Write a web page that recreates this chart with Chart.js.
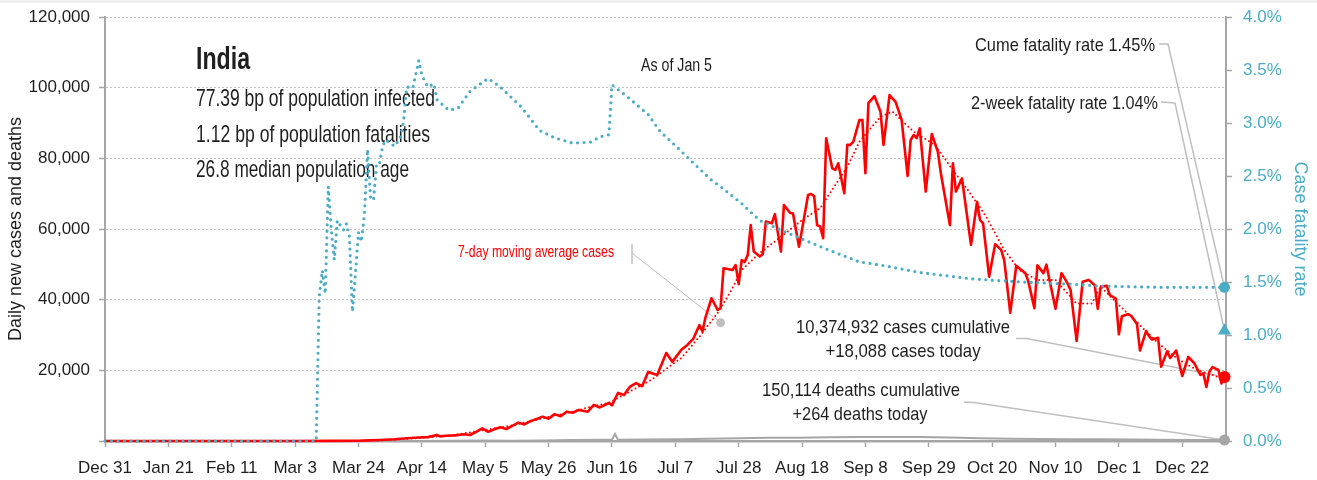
<!DOCTYPE html>
<html>
<head>
<meta charset="utf-8">
<title>India daily cases and deaths</title>
<script src="https://cdn.jsdelivr.net/npm/chart.js@4.4.1/dist/chart.umd.min.js"></script>
<style>
  html, body { margin: 0; padding: 0; background: #fff; }
  canvas { display: block; }
</style>
</head>
<body>
<canvas id="chart" width="1317" height="480"></canvas>
<script>
// ----------------------
// Data (x = days since Dec 31, 2019)
// ----------------------
const xTickDays = [0, 21, 42, 63, 84, 105, 126, 147, 168, 189, 210, 231, 252, 273, 294, 315, 336, 357];
const xTickLabels = ['Dec 31', 'Jan 21', 'Feb 11', 'Mar 3', 'Mar 24', 'Apr 14', 'May 5', 'May 26', 'Jun 16',
  'Jul 7', 'Jul 28', 'Aug 18', 'Sep 8', 'Sep 29', 'Oct 20', 'Nov 10', 'Dec 1', 'Dec 22'];

// daily new cases [day, cases]
const dailyCases = [
  [0, 0], [62, 0], [75, 30], [85, 120], [91, 300], [96, 500], [100, 800], [104, 1000], [107, 1100],
  [110, 1700], [111, 1300], [113, 1500], [116, 1600], [119, 1900], [121, 1700], [123, 2600], [125, 3600],
  [127, 2600], [129, 3300], [131, 3900], [133, 3400], [135, 4300], [137, 5200], [139, 4700], [141, 5600],
  [143, 6200], [145, 6900], [147, 6300], [149, 7600], [151, 7000], [153, 8300], [155, 8000], [157, 8800],
  [160, 8300], [162, 10200], [164, 9500], [167, 10750], [168, 10100], [170, 13600], [172, 13000],
  [174, 15400], [176, 16400], [178, 15500], [180, 19500], [183, 18700], [186, 24900], [188, 22400],
  [191, 25800], [193, 27200], [195, 29000], [197, 32800], [198, 31000], [199, 35000], [201, 40400],
  [203, 37100], [204, 37600], [205, 48900], [208, 48400], [209, 49800], [210, 44400], [211, 51200],
  [212, 50700], [213, 52600], [214, 61100], [215, 53600], [217, 52200], [218, 52900], [219, 62100],
  [221, 61600], [222, 64200], [224, 53600], [225, 66800], [227, 64600], [228, 64400], [230, 55000],
  [233, 69600], [234, 69900], [235, 69300], [236, 61100], [237, 60700], [238, 57400], [239, 85700],
  [241, 77200], [242, 76700], [243, 78600], [245, 70100], [246, 83800], [247, 83800], [248, 84700],
  [250, 90800], [251, 90800], [252, 75800], [253, 95600], [255, 97600], [257, 93200], [258, 83800],
  [260, 97900], [262, 96000], [264, 90900], [266, 75000], [267, 85200], [268, 86600], [269, 85700],
  [270, 88500], [272, 70600], [274, 86900], [276, 81900], [277, 75800], [280, 61100], [281, 78600],
  [282, 70600], [284, 74300], [287, 55500], [289, 67700], [290, 62500], [291, 61600], [293, 46500],
  [295, 55700], [297, 54100], [298, 51200], [300, 36300], [302, 49600], [305, 47500], [306, 45100],
  [308, 37600], [309, 49700], [311, 47500], [312, 49900], [313, 45600], [315, 37400], [317, 47500],
  [319, 44600], [320, 42700], [322, 28300], [324, 45100], [326, 45600], [328, 44100], [329, 37400],
  [330, 43700], [332, 43900], [333, 41300], [335, 40300], [336, 30200], [337, 35300], [339, 35900],
  [340, 35500], [342, 33100], [343, 25600], [345, 31100], [346, 29700], [347, 28700], [349, 29200],
  [350, 21000], [352, 25400], [353, 23500], [355, 25600], [357, 18400], [359, 23800], [361, 22000],
  [363, 18700], [364, 19100], [365, 15300], [366, 19600], [367, 20900], [369, 20100], [370, 16300],
  [371, 18088]
];

// 7-day moving average of cases [day, cases]
const casesAvg7 = [
  [0, 0], [80, 0], [91, 150], [104, 850], [115, 1600], [125, 3000], [135, 4400], [145, 6400], [155, 8300],
  [161, 9700], [167, 10800], [174, 14000], [181, 17300], [191, 23500], [197, 29500], [203, 36200],
  [207, 41800], [211, 48400], [217, 53200], [224, 57800], [231, 62500], [237, 65900], [246, 77600],
  [250, 84700], [257, 91800], [261, 93200], [268, 87500], [275, 83800], [281, 76700], [286, 71000],
  [292, 63500], [298, 54100], [303, 48400], [309, 45600], [315, 45600], [322, 38900], [327, 38900],
  [330, 43700], [335, 39300], [342, 33600], [349, 27700], [356, 22900], [362, 20100], [369, 18100],
  [371, 17500]
];

// daily new deaths [day, deaths]
const dailyDeaths = [
  [0, 0], [70, 0], [85, 5], [95, 15], [105, 35], [115, 50], [125, 120], [135, 100], [145, 150],
  [155, 270], [165, 330], [168, 380], [169, 2000], [170, 340], [180, 420], [190, 500], [200, 650],
  [210, 780], [220, 900], [230, 950], [240, 1050], [250, 1130], [260, 1150], [270, 1100], [280, 1000],
  [290, 800], [300, 650], [310, 560], [320, 500], [330, 480], [340, 420], [350, 340], [360, 300],
  [371, 264]
];

// case fatality rate, % [day, rate]
const fatalityRate = [
  [0, 0], [70, 0], [71, 1.36], [72, 1.61], [73, 1.39], [74, 2.40], [75, 1.99], [76, 1.71], [77, 2.08],
  [79, 1.99], [80, 2.05], [81, 1.93], [82, 1.22], [83, 1.58], [84, 1.97], [85, 1.88], [86, 2.15],
  [87, 2.75], [88, 2.30], [89, 2.27], [90, 2.62], [91, 2.62], [92, 2.78], [93, 2.84], [96, 2.78],
  [98, 2.87], [99, 3.03], [100, 3.34], [102, 3.33], [104, 3.59], [105, 3.45], [107, 3.34], [109, 3.37],
  [110, 3.22], [114, 3.12], [117, 3.14], [121, 3.30], [127, 3.42], [131, 3.34], [138, 3.15], [144, 2.93],
  [149, 2.86], [155, 2.81], [161, 2.82], [164, 2.87], [167, 2.89], [168, 3.36], [173, 3.25], [180, 3.08],
  [184, 2.92], [190, 2.76], [194, 2.65], [201, 2.46], [204, 2.40], [211, 2.24], [217, 2.08], [228, 1.94],
  [240, 1.80], [250, 1.69], [257, 1.66], [270, 1.59], [287, 1.53], [304, 1.50], [320, 1.48], [331, 1.46],
  [350, 1.45], [371, 1.45]
];

// pointer dot for the moving average label [day, cases]
const avgLabelAnchor = [204, 33500];

// latest figures
const lastDay = 371;
const casesToday = 18088;
const deathsToday = 264;
const casesCumulative = 10374932;
const deathsCumulative = 150114;
const cumeFatality = 1.45;
const twoWeekFatality = 1.04;

const countryName = 'India';
const countryStats = [
  '77.39 bp of population infected',
  '1.12 bp of population fatalities',
  '26.8 median population age'
];
const asOfLabel = 'As of Jan 5';

// ----------------------
// Styling
// ----------------------
const RED = '#ff0000';
const BLUE = '#4bacc6';
const GREY = '#a6a6a6';
const LEADER = '#bfbfbf';
const INK = '#1f1f1f';

function fontAvailable(name) {
  const c = document.createElement('canvas').getContext('2d');
  const probe = 'Daily new cases 120,000';
  c.font = '40px monospace';
  const base = c.measureText(probe).width;
  c.font = `40px "${name}", monospace`;
  return c.measureText(probe).width !== base;
}

const narrow = fontAvailable('Liberation Sans Narrow');
const FAMILY = narrow
  ? '"Liberation Sans Narrow", "Liberation Sans", sans-serif'
  : '"Liberation Sans", Arial, sans-serif';
const tickFont = { family: FAMILY, size: narrow ? 20 : 17 };
const titleFont = { family: FAMILY, size: narrow ? 21 : 18 };

const fmt = n => n.toLocaleString('en-US');
const toPoints = arr => arr.map(([x, y]) => ({ x, y }));

// text squeezed horizontally to a given width (condensed look)
function squeezed(ctx, text, x, y, size, width, color, align, weight) {
  ctx.save();
  ctx.font = `${weight || 'normal'} ${size}px ${FAMILY}`;
  const w = ctx.measureText(text).width;
  ctx.translate(x, y);
  ctx.scale(Math.min(1.15, width / w), 1);
  ctx.textAlign = align || 'left';
  ctx.textBaseline = 'middle';
  ctx.fillStyle = color || INK;
  ctx.fillText(text, 0, 0);
  ctx.restore();
}

function polyline(ctx, pts, color, width) {
  ctx.save();
  ctx.strokeStyle = color;
  ctx.lineWidth = width;
  ctx.lineJoin = 'round';
  ctx.beginPath();
  pts.forEach(([px, py], i) => (i ? ctx.lineTo(px, py) : ctx.moveTo(px, py)));
  ctx.stroke();
  ctx.restore();
}

// ----------------------
// Plugins
// ----------------------
const paper = {
  id: 'paper',
  beforeDraw(chart) {
    const { ctx, width, height } = chart;
    ctx.save();
    ctx.fillStyle = '#ffffff';
    ctx.fillRect(0, 0, width, height);
    ctx.fillStyle = '#efefef';
    ctx.fillRect(0, 0, width, 3);
    ctx.restore();
  }
};

const notes = {
  id: 'notes',
  beforeDatasetsDraw(chart) {
    const { ctx, scales: { x, y, y1 } } = chart;
    const endX = x.getPixelForValue(lastDay);
    const cumeY = y1.getPixelForValue(cumeFatality);
    const twoWeekY = y1.getPixelForValue(twoWeekFatality);
    const casesY = y.getPixelForValue(casesToday);
    const deathsY = y.getPixelForValue(deathsToday);
    const ax = x.getPixelForValue(avgLabelAnchor[0]);
    const ay = y.getPixelForValue(avgLabelAnchor[1]);

    // leader lines
    polyline(ctx, [[1159, 44], [1168, 44], [endX, cumeY]], LEADER, 1.5);
    polyline(ctx, [[1161, 102], [1175, 103], [endX, twoWeekY]], LEADER, 1.5);
    polyline(ctx, [[1016, 338.5], [1027, 338.5], [endX, casesY]], LEADER, 1.5);
    polyline(ctx, [[964, 402], [974, 402.5], [endX, deathsY]], LEADER, 1.5);
    polyline(ctx, [[632, 244], [632, 264]], LEADER, 1.5);
    polyline(ctx, [[632, 253], [ax, ay]], LEADER, 1);

    // headline block
    squeezed(ctx, countryName, 196, 60.5, 32, 54, INK, 'left', 'bold');
    squeezed(ctx, countryStats[0], 196, 99.7, 24, 239);
    squeezed(ctx, countryStats[1], 196, 135.2, 24, 234);
    squeezed(ctx, countryStats[2], 196, 170.5, 24, 213);
    squeezed(ctx, asOfLabel, 641, 65.8, 18, 71);

    squeezed(ctx, '7-day moving average cases', 458, 252, 17, 156, RED);

    squeezed(ctx, `Cume fatality rate ${cumeFatality.toFixed(2)}%`, 1155, 46, 19, 180, INK, 'right');
    squeezed(ctx, `2-week fatality rate ${twoWeekFatality.toFixed(2)}%`, 1158, 103.5, 19, 187, INK, 'right');

    squeezed(ctx, `${fmt(casesCumulative)} cases cumulative`, 903, 328, 19, 214, INK, 'center');
    squeezed(ctx, `+${fmt(casesToday)} cases today`, 903, 351.7, 19, 155, INK, 'center');
    squeezed(ctx, `${fmt(deathsCumulative)} deaths cumulative`, 861, 391.2, 19, 198, INK, 'center');
    squeezed(ctx, `+${fmt(deathsToday)} deaths today`, 860, 415, 19, 135, INK, 'center');
  }
};

// keep label overhang from pushing the plot area in
function fixedWidth(w) {
  return s => {
    s.width = w;
    s.paddingTop = 4;
    s.paddingBottom = 4;
  };
}

// ----------------------
// Chart
// ----------------------
const marker = (value, axis, color, style, radius) => ({
  data: [{ x: lastDay, y: value }],
  yAxisID: axis,
  showLine: false,
  pointStyle: style,
  pointRadius: radius,
  pointBackgroundColor: color,
  pointBorderColor: color,
  pointBorderWidth: 0,
  order: 0
});

const datasets = [
  marker(cumeFatality, 'y1', BLUE, 'circle', 5.5),
  marker(twoWeekFatality, 'y1', BLUE, 'triangle', 7.5),
  marker(casesToday, 'y', RED, 'circle', 6),
  marker(deathsToday, 'y', GREY, 'circle', 5.5),
  {
    data: [{ x: avgLabelAnchor[0], y: avgLabelAnchor[1] }],
    yAxisID: 'y', showLine: false, pointRadius: 4.5,
    pointBackgroundColor: LEADER, pointBorderWidth: 0, order: 0
  },
  {
    label: 'Case fatality rate',
    data: toPoints(fatalityRate), yAxisID: 'y1',
    borderColor: BLUE, borderWidth: 3.2, borderDash: [0, 6.5], borderCapStyle: 'round',
    pointRadius: 0, order: 1
  },
  {
    label: 'Daily new cases',
    data: toPoints(dailyCases), yAxisID: 'y',
    borderColor: RED, borderWidth: 2.6, borderJoinStyle: 'round',
    pointRadius: 0, order: 2
  },
  {
    label: '7-day moving average cases',
    data: toPoints(casesAvg7), yAxisID: 'y',
    borderColor: RED, borderWidth: 2, borderDash: [0, 4.2], borderCapStyle: 'round',
    pointRadius: 0, order: 3
  },
  {
    label: 'Daily new deaths',
    data: toPoints(dailyDeaths), yAxisID: 'y',
    borderColor: GREY, borderWidth: 2, pointRadius: 0, order: 4
  }
].map(d => Object.assign({ clip: false, tension: 0 }, d));

new Chart(document.getElementById('chart'), {
  type: 'line',
  data: { datasets },
  plugins: [paper, notes],
  options: {
    responsive: false,
    animation: false,
    devicePixelRatio: 1,
    events: [],
    layout: { padding: { top: 17, left: 0, right: 0, bottom: 0 } },
    plugins: { legend: { display: false }, tooltip: { enabled: false } },
    scales: {
      x: {
        type: 'linear',
        min: 0,
        max: 371.5,
        afterBuildTicks: s => { s.ticks = xTickDays.map(value => ({ value })); },
        afterFit: s => { s.height = 39; },
        ticks: {
          autoSkip: false, maxRotation: 0, padding: 11, color: INK, font: tickFont,
          callback: (v, i) => xTickLabels[i]
        },
        grid: { drawOnChartArea: false, drawTicks: true, tickLength: 6, tickWidth: 1.5, tickColor: GREY },
        border: { color: GREY, width: 2.5 }
      },
      y: {
        position: 'left',
        min: 0,
        max: 120000,
        afterFit: fixedWidth(105),
        ticks: {
          stepSize: 20000, padding: 9, color: INK, font: tickFont,
          callback: v => (v === 0 ? '' : fmt(v))
        },
        grid: { color: '#c4c4c4', lineWidth: 1, drawTicks: true, tickLength: 6, tickWidth: 1.5, tickColor: GREY },
        border: { color: GREY, width: 2, dash: [2, 2] },
        title: { display: true, text: 'Daily new cases and deaths', color: INK, font: titleFont, padding: { top: 5 } }
      },
      y1: {
        position: 'right',
        min: 0,
        max: 4,
        afterFit: fixedWidth(91),
        ticks: {
          stepSize: 0.5, padding: 11, color: BLUE, font: tickFont,
          callback: v => v.toFixed(1) + '%'
        },
        grid: { drawOnChartArea: false, drawTicks: true, tickLength: 6, tickWidth: 1.5, tickColor: GREY },
        border: { color: GREY, width: 2 },
        title: { display: true, text: 'Case fatality rate', color: BLUE, font: titleFont, padding: { top: 6 } }
      }
    }
  }
});
</script>
</body>
</html>
